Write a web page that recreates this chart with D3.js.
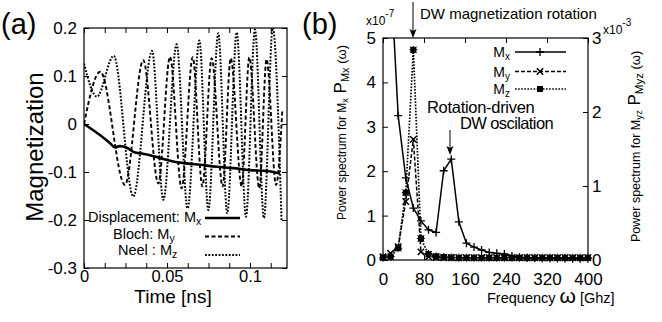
<!DOCTYPE html>
<html><head><meta charset="utf-8">
<script src="https://cdn.jsdelivr.net/npm/d3@7"></script>
<style>body{margin:0;background:#fff} svg{display:block} text{font-family:"Liberation Sans",Arial,sans-serif;fill:#000}</style>
</head><body>
<svg id="c" width="662" height="322"></svg>
<script>
// ---------- Panel (a) data ----------
const timeMx = [0, 0.0096, 0.0157, 0.0187, 0.0215, 0.0237, 0.0267, 0.0297, 0.0337, 0.0398, 0.0458, 0.0538, 0.0618, 0.0699, 0.08, 0.09, 0.1, 0.11, 0.118];
const valMx  = [0, -0.023, -0.040, -0.049, -0.046, -0.047, -0.051, -0.058, -0.061, -0.065, -0.071, -0.078, -0.082, -0.085, -0.089, -0.092, -0.096, -0.098, -0.103];
const timeMy = [0, 0.0098, 0.0247, 0.0357, 0.0448, 0.0518, 0.0588, 0.0655, 0.0713, 0.0769, 0.0835, 0.0884, 0.095, 0.0996, 0.1056, 0.11, 0.1157, 0.1195];
const valMy  = [0, 0.109, -0.127, 0.133, -0.124, 0.14, -0.134, 0.139, -0.13, 0.137, -0.13, 0.137, -0.13, 0.139, -0.134, 0.135, -0.127, 0.03];
const timeMz = [0, 0.0078, 0.0179, 0.0297, 0.041, 0.0478, 0.0558, 0.0624, 0.0695, 0.0749, 0.0809, 0.0863, 0.092, 0.0976, 0.103, 0.1084, 0.1137, 0.119];
const valMz  = [0.126, 0.057, 0.142, -0.151, 0.152, -0.158, 0.166, -0.176, 0.174, -0.179, 0.189, -0.186, 0.191, -0.193, 0.197, -0.196, 0.2, -0.2];
const aXTickVals = [0, 0.0125, 0.025, 0.0375, 0.05, 0.0625, 0.075, 0.0875, 0.1, 0.1125];
const aXTickLabels = {"0": "0", "0.05": "0.05", "0.1": "0.1"};
const aYTickVals = [-0.3, -0.2, -0.1, 0, 0.1, 0.2];
const aYTickLabels = ["-0.3", "-0.2", "-0.1", "0", "0.1", "0.2"];

// ---------- Panel (b) data ----------
const freq = [0, 14.8, 29.6, 44.4, 59.2, 74, 88.8, 103.6, 118.4, 133.2, 148, 162.8, 177.6, 192.4, 207.2, 222, 236.8, 251.6, 266.4, 281.2, 296, 310.8, 325.6, 340.4, 355.2, 370, 384.8, 399.6];
const specMx = [50, 6.5, 3.25, 1.85, 1.17, 0.88, 0.68, 0.62, 2.01, 2.27, 0.86, 0.38, 0.29, 0.225, 0.17, 0.15, 0.135, 0.09, 0.06, 0.05, 0.045, 0.04, 0.04, 0.035, 0.035, 0.03, 0.03, 0.03];
const specMy = [0.045, 0.09, 0.18, 0.79, 1.63, 0.11, 0.045, 0.035, 0.03, 0.03, 0.03, 0.03, 0.03, 0.03, 0.03, 0.03, 0.03, 0.03, 0.03, 0.03, 0.03, 0.03, 0.03, 0.03, 0.03, 0.03, 0.03, 0.03];
const specMz = [0.03, 0.045, 0.16, 0.91, 2.84, 0.29, 0.08, 0.05, 0.04, 0.035, 0.03, 0.03, 0.03, 0.03, 0.03, 0.03, 0.03, 0.03, 0.03, 0.03, 0.03, 0.03, 0.03, 0.03, 0.03, 0.03, 0.03, 0.03];
const bXTicks = [0, 80, 160, 240, 320, 400];
const bYTicks = [0, 1, 2, 3, 4, 5];
const bY2Ticks = [0, 1, 2, 3];

const svg = d3.select("#c");

// ================= Panel (a) =================
const ax = {l: 84, r: 287, t: 28, b: 268};
const xa = d3.scaleLinear().domain([0, 0.1223]).range([ax.l, ax.r]);
const ya = d3.scaleLinear().domain([-0.3, 0.2]).range([ax.b, ax.t]);

svg.append("clipPath").attr("id", "clipA").append("rect")
  .attr("x", ax.l).attr("y", ax.t - 2).attr("width", ax.r - ax.l).attr("height", ax.b - ax.t + 2);

function styleAxis(g, fs) {
  g.select(".domain").remove();
  g.selectAll(".tick line").attr("stroke", "#000").attr("stroke-width", 1);
  g.selectAll(".tick text").attr("font-size", fs).attr("font-family", "Liberation Sans, Arial, sans-serif").attr("fill", "#000");
}
const fmtA = d => aXTickLabels[String(+d.toFixed(4))] || "";
svg.append("g").attr("transform", `translate(0,${ax.b})`)
  .call(d3.axisBottom(xa).tickValues(aXTickVals).tickSize(-5).tickPadding(2).tickFormat(fmtA))
  .call(g => styleAxis(g, 16.5));
svg.append("g").attr("transform", `translate(0,${ax.t})`)
  .call(d3.axisTop(xa).tickValues(aXTickVals).tickSize(-5).tickFormat(""))
  .call(g => styleAxis(g, 17));
svg.append("g").attr("transform", `translate(${ax.l},0)`)
  .call(d3.axisLeft(ya).tickValues(aYTickVals).tickSize(-5).tickPadding(7).tickFormat((d, i) => aYTickLabels[i]))
  .call(g => styleAxis(g, 17));
svg.append("g").attr("transform", `translate(${ax.r},0)`)
  .call(d3.axisRight(ya).tickValues(aYTickVals).tickSize(-5).tickFormat(""))
  .call(g => styleAxis(g, 17));

const lineA = (ts, vs) => d3.line().x((d, i) => xa(ts[i])).y(d => ya(d)).curve(d3.curveMonotoneX)(vs);
const gA = svg.append("g").attr("clip-path", "url(#clipA)");
gA.append("path").attr("d", lineA(timeMz, valMz)).attr("fill", "none").attr("stroke", "#000")
  .attr("stroke-width", 2).attr("stroke-dasharray", "1.8,1.6");
gA.append("path").attr("d", lineA(timeMy, valMy)).attr("fill", "none").attr("stroke", "#000")
  .attr("stroke-width", 1.9).attr("stroke-dasharray", "4,2.5");
gA.append("path").attr("d", lineA(timeMx, valMx)).attr("fill", "none").attr("stroke", "#000")
  .attr("stroke-width", 2.6);

svg.append("rect").attr("x", ax.l).attr("y", ax.t).attr("width", ax.r - ax.l).attr("height", ax.b - ax.t)
  .attr("fill", "none").attr("stroke", "#000").attr("stroke-width", 1.2);

// legend (a)
function subText(sel, x, y, parts, anchor) {
  const t = sel.append("text").attr("x", x).attr("y", y).attr("text-anchor", anchor || "start");
  parts.forEach(p => {
    const s = t.append("tspan").text(p.t).attr("font-size", p.fs);
    if (p.dy) s.attr("dy", p.dy);
    if (p.ff) s.attr("font-family", p.ff);
  });
  return t;
}
subText(svg, 88, 222, [{t: "Displacement: M", fs: 14.5}, {t: "x", fs: 10.5, dy: 2.5}]);
subText(svg, 113, 239, [{t: "Bloch: M", fs: 14.5}, {t: "y", fs: 10.5, dy: 2.5}]);
subText(svg, 118, 255, [{t: "Neel : M", fs: 14.5}, {t: "z", fs: 10.5, dy: 2.5}]);
svg.append("line").attr("x1", 205).attr("x2", 240).attr("y1", 218).attr("y2", 218).attr("stroke", "#000").attr("stroke-width", 2.6);
svg.append("line").attr("x1", 205).attr("x2", 240).attr("y1", 236.5).attr("y2", 236.5).attr("stroke", "#000").attr("stroke-width", 1.9).attr("stroke-dasharray", "4,2.5");
svg.append("line").attr("x1", 205).attr("x2", 240).attr("y1", 255).attr("y2", 255).attr("stroke", "#000").attr("stroke-width", 2).attr("stroke-dasharray", "1.8,1.6");

svg.append("text").attr("transform", "translate(43,147) rotate(-90)").attr("text-anchor", "middle")
  .attr("font-size", 24).text("Magnetization");
svg.append("text").attr("x", 173).attr("y", 303).attr("text-anchor", "middle").attr("font-size", 19).text("Time [ns]");
svg.append("text").attr("x", 1).attr("y", 34).attr("font-size", 29).text("(a)");

// ================= Panel (b) =================
const bx = {l: 383, r: 588, t: 38, b: 260};
const xb = d3.scaleLinear().domain([0, 400]).range([bx.l, bx.r]);
const yb = d3.scaleLinear().domain([0, 5]).range([bx.b, bx.t]);
const yb2 = d3.scaleLinear().domain([0, 3]).range([bx.b, bx.t]);

svg.append("clipPath").attr("id", "clipB").append("rect")
  .attr("x", bx.l - 6).attr("y", bx.t).attr("width", bx.r - bx.l + 12).attr("height", bx.b - bx.t + 8);

svg.append("g").attr("transform", `translate(0,${bx.b})`)
  .call(d3.axisBottom(xb).tickValues(bXTicks).tickSize(-5).tickPadding(13).tickFormat(d => String(d)))
  .call(g => styleAxis(g, 17));
svg.append("g").attr("transform", `translate(0,${bx.t})`)
  .call(d3.axisTop(xb).tickValues(bXTicks).tickSize(-5).tickFormat(""))
  .call(g => styleAxis(g, 17));
svg.append("g").attr("transform", `translate(${bx.l},0)`)
  .call(d3.axisLeft(yb).tickValues(bYTicks).tickSize(-5).tickPadding(7).tickFormat(d => String(d)))
  .call(g => styleAxis(g, 17));
svg.append("g").attr("transform", `translate(${bx.r},0)`)
  .call(d3.axisRight(yb2).tickValues(bY2Ticks).tickSize(-5).tickPadding(4).tickFormat(d => String(d)))
  .call(g => styleAxis(g, 17));

const gB = svg.append("g").attr("clip-path", "url(#clipB)");
const lineB = (ys, sc) => d3.line().x((d, i) => xb(freq[i])).y(d => sc(d))(ys);
gB.append("path").attr("d", lineB(specMz, yb2)).attr("fill", "none").attr("stroke", "#000").attr("stroke-width", 1.7).attr("stroke-dasharray", "1.6,1.5");
gB.append("path").attr("d", lineB(specMy, yb2)).attr("fill", "none").attr("stroke", "#000").attr("stroke-width", 1.5).attr("stroke-dasharray", "4,2");
gB.append("path").attr("d", lineB(specMx, yb)).attr("fill", "none").attr("stroke", "#000").attr("stroke-width", 1.5);

const plusP = "M-4,0H4M0,-4V4";
const crossP = "M-3.2,-3.2L3.2,3.2M-3.2,3.2L3.2,-3.2";
function markers(vals, sc, kind) {
  const pts = vals.map((v, i) => [xb(freq[i]), sc(v)]).filter(p => p[1] >= bx.t - 1);
  pts.forEach(p => {
    const g = gB.append("g").attr("transform", `translate(${p[0]},${p[1]})`);
    if (kind === "plus") g.append("path").attr("d", plusP).attr("stroke", "#000").attr("stroke-width", 1.3);
    else if (kind === "cross") g.append("path").attr("d", crossP).attr("stroke", "#000").attr("stroke-width", 1.5);
    else {
      g.append("rect").attr("x", -3).attr("y", -3).attr("width", 6).attr("height", 6).attr("fill", "#000");
      g.append("path").attr("d", plusP + crossP).attr("stroke", "#000").attr("stroke-width", 1);
    }
  });
}
markers(specMz, yb2, "sq");
markers(specMy, yb2, "cross");
markers(specMx, yb, "plus");

svg.append("rect").attr("x", bx.l).attr("y", bx.t).attr("width", bx.r - bx.l).attr("height", bx.b - bx.t)
  .attr("fill", "none").attr("stroke", "#000").attr("stroke-width", 1.2);

// legend (b)
const legB = [{n: "x", y: 52, dash: null, k: "plus"}, {n: "y", y: 71.5, dash: "4,2", k: "cross"}, {n: "z", y: 89, dash: "1.6,1.5", k: "sq"}];
legB.forEach(e => {
  subText(svg, 510, e.y + 5, [{t: "M", fs: 14}, {t: e.n, fs: 10, dy: 3}], "end");
  const l = svg.append("line").attr("x1", 515).attr("x2", 566).attr("y1", e.y).attr("y2", e.y).attr("stroke", "#000").attr("stroke-width", 1.5);
  if (e.dash) l.attr("stroke-dasharray", e.dash);
  const g = svg.append("g").attr("transform", `translate(540,${e.y})`);
  if (e.k === "plus") g.append("path").attr("d", plusP).attr("stroke", "#000").attr("stroke-width", 1.3);
  else if (e.k === "cross") g.append("path").attr("d", crossP).attr("stroke", "#000").attr("stroke-width", 1.5);
  else { g.append("rect").attr("x", -3).attr("y", -3).attr("width", 6).attr("height", 6).attr("fill", "#000"); }
});

// annotations
function arrow(x, y1, y2) {
  svg.append("line").attr("x1", x).attr("x2", x).attr("y1", y1).attr("y2", y2 - 6).attr("stroke", "#000").attr("stroke-width", 1);
  svg.append("path").attr("d", `M${x},${y2}L${x - 3.5},${y2 - 9}L${x},${y2 - 7}L${x + 3.5},${y2 - 9}Z`).attr("fill", "#000");
}
arrow(413, 2, 38);
arrow(450, 130, 155);
svg.append("text").attr("x", 420).attr("y", 19).attr("font-size", 15).text("DW magnetization rotation");
svg.append("text").attr("x", 427).attr("y", 113).attr("font-size", 16.5).attr("letter-spacing", -0.3).text("Rotation-driven");
svg.append("text").attr("x", 460).attr("y", 129).attr("font-size", 16.5).attr("letter-spacing", -0.6).text("DW oscilation");

svg.append("text").attr("x", 302).attr("y", 34).attr("font-size", 29).text("(b)");
// scale multipliers
subText(svg, 366, 25, [{t: "x10", fs: 12}, {t: "-7", fs: 10, dy: -8}]);
subText(svg, 603, 34, [{t: "x10", fs: 12}, {t: "-3", fs: 10, dy: -8}]);

// axis titles
subText(svg, 487, 303, [{t: "Frequency ", fs: 14.5}, {t: "ω", fs: 21}, {t: " [Ghz]", fs: 14.5}]);
subText(svg.append("g").attr("transform", "translate(346,220) rotate(-90)"), 0, 0,
  [{t: "Power spectrum for M", fs: 12}, {t: "x", fs: 9, dy: 2}, {t: "  P", fs: 17, dy: -2}, {t: "Mx", fs: 11, dy: 3}, {t: " (ω)", fs: 13, dy: -3}]);
subText(svg.append("g").attr("transform", "translate(640,242) rotate(-90)"), 0, 0,
  [{t: "Power spectrum for M", fs: 12.5}, {t: "yz", fs: 9.5, dy: 2}, {t: " P", fs: 17, dy: -2}, {t: "Myz", fs: 11.5, dy: 3}, {t: " (ω)", fs: 13, dy: -3}]);
</script>
</body></html>
